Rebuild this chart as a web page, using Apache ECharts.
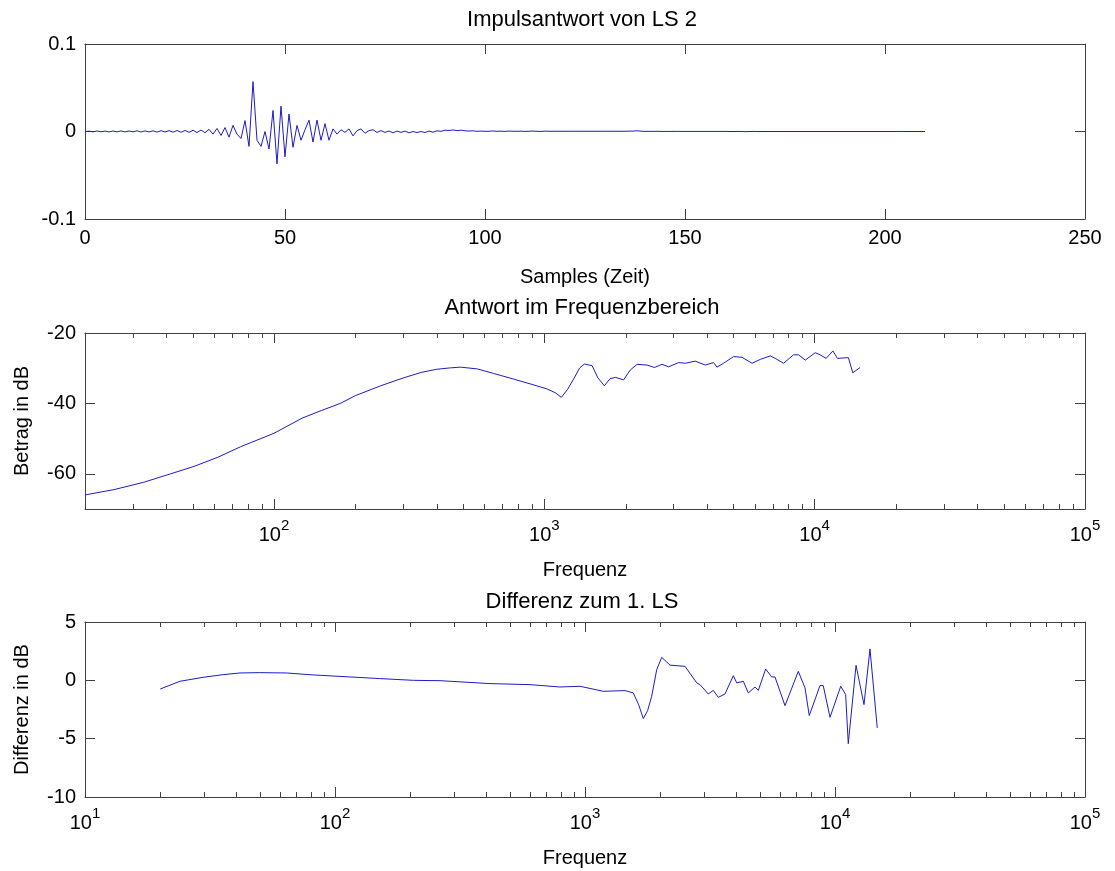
<!DOCTYPE html>
<html><head><meta charset="utf-8">
<script src="https://cdn.jsdelivr.net/npm/echarts@6/dist/echarts.min.js"></script>
<style>html,body{margin:0;padding:0;background:#fff}#c{width:1115px;height:871px}</style>
</head><body><div id="c"></div>
<script>
// ---- Data ----
const impulse = [
 0, 0.0004, -0.0004, 0.0006, -0.0003, 0.0005, -0.0005, 0.0006, -0.0004, 0.0007,
 -0.0005, 0.0006, -0.0004, 0.0008, -0.0006, 0.0007, -0.0005, 0.0008, -0.0007, 0.0009,
 -0.0006, 0.0010, -0.0008, 0.0011, -0.0009, 0.0012, -0.0010, 0.0014, -0.0012, 0.0017,
 -0.0014,
 0.0025, -0.0030, 0.0035, -0.0045, 0.0045, -0.0065, 0.0070, -0.0030, -0.0080, 0.0125,
 -0.0170, 0.0570, -0.0100, -0.0170, 0.0000, -0.0200, 0.0240, -0.0370, 0.0290, -0.0290,
 0.0200, -0.0180, 0.0070, -0.0100, 0.0020, 0.0130, -0.0120, 0.0130, -0.0100, 0.0090,
 -0.0100, 0.0030, -0.0030, 0.0020, -0.0010, 0.0030, -0.0050, 0.0010, 0.0030, -0.0020,
 0.0010, 0.0020, -0.0010, 0.0010, -0.0010, 0.0005, -0.0015, 0.0005, -0.0010, 0.0005,
 -0.0015, 0.0000, -0.0012, 0.0000, -0.0012, 0.0005, -0.0008, 0.0008, 0.0002, 0.0015,
 0.0012, 0.0018, 0.0010, 0.0015, 0.0008, 0.0005, 0.0008, 0.0002, 0.0005, 0.0002,
 0.0003, 0.0006, 0.0002, 0.0004, 0.0001, 0.0005, 0.0003, 0.0002, 0.0004, 0.0001,
 0.0003, 0.0005, 0.0002, 0.0001, 0.0004, 0.0003, 0.0002, 0.0003, 0.0003, 0.0002,
 0.0003, 0.0003, 0.0002, 0.0003, 0.0003, 0.0002, 0.0003, 0.0002, 0.0003, 0.0003,
 0.0002, 0.0003, 0.0003, 0.0002, 0.0003, 0.0004, 0.0005, 0.0008, 0.0004, 0.0001,
 0.0002, 0.0001, 0.0002, 0.0001, 0.0001, 0.0001, 0.0001, 0.0002, 0.0001, 0.0001,
 0.0001, 0.0001, 0.0001, 0.0001, 0.0001, 0.0001, 0.0001, 0.0001, 0.0001, 0.0001,
 0.0000, 0.0000, 0.0000, 0.0001, -0.0002, 0.0000, 0.0001, 0.0000, 0.0000, 0.0000,
 0.0000, 0.0000, 0.0000, 0.0000, 0.0000, 0.0000, 0.0000, 0.0000, 0.0000, 0.0000,
 0.0000, 0.0000, 0.0000, 0.0000, 0.0000, 0.0000, 0.0000, 0.0000, 0.0000, 0.0000,
 0.0000, 0.0000, 0.0000, 0.0000, 0.0000, 0.0000, 0.0000, 0.0000, 0.0000, 0.0000,
 0.0000, 0.0000, 0.0000, 0.0001, 0.0000, 0.0000, 0.0000, 0.0000, 0.0000, 0.0000
];

const respFreq = [20, 25.6, 33, 41.5, 50.6, 62, 75.3, 100, 127, 150, 176, 200, 248, 300, 350, 400, 450, 490, 565, 650, 771, 900, 1024, 1100, 1156, 1220, 1285, 1350, 1407, 1503, 1580, 1668, 1750, 1832, 1965, 2080, 2203, 2399, 2553, 2725, 2884, 3140, 3322, 3616, 3939, 4226, 4352, 4603, 5012, 5385, 5866, 6296, 6852, 7146, 7674, 8356, 8716, 9230, 10050, 10480, 11030, 11680, 12140, 13330, 13840, 14730];
const respDb = [-66.0, -64.5, -62.4, -60.0, -57.9, -55.3, -52.3, -48.5, -44.2, -42.0, -40.0, -37.8, -35.0, -32.8, -31.2, -30.3, -29.9, -29.7, -30.2, -31.5, -33.1, -34.6, -35.9, -37.0, -38.3, -36.0, -33.0, -30.0, -28.8, -29.3, -32.8, -35.0, -33.0, -32.6, -33.3, -30.5, -28.9, -29.1, -29.8, -28.9, -29.6, -28.4, -28.6, -28.0, -29.1, -28.4, -29.7, -28.6, -26.7, -26.9, -28.6, -27.5, -26.5, -27.2, -28.6, -26.2, -26.2, -27.7, -25.6, -26.2, -27.2, -25.1, -27.2, -27.0, -31.3, -29.8];

const diffFreq = [20, 24, 29.7, 35.7, 41.7, 50, 64, 82, 115, 151, 206, 263, 417, 603, 794, 955, 1184, 1445, 1560, 1640, 1711, 1780, 1848, 1936, 2027, 2188, 2512, 2799, 2884, 3113, 3260, 3414, 3631, 3920, 4045, 4299, 4501, 4786, 4935, 5280, 5580, 5754, 6310, 7132, 7586, 7889, 8710, 8974, 9550, 10540, 11030, 11300, 12140, 13060, 13800, 14760];
const diffDb = [-0.74, -0.08, 0.26, 0.49, 0.63, 0.66, 0.63, 0.46, 0.29, 0.15, 0.0, -0.03, -0.28, -0.37, -0.57, -0.51, -0.94, -0.88, -1.08, -2.10, -3.28, -2.60, -1.37, 0.92, 1.97, 1.30, 1.20, -0.22, -0.37, -1.17, -0.86, -1.46, -1.17, 0.40, -0.22, -0.08, -1.08, -0.57, -0.86, 0.97, 0.29, 0.29, -2.17, 0.77, -0.65, -3.02, -0.45, -0.45, -3.17, -0.51, -1.22, -5.43, 1.29, -2.08, 2.69, -4.08];

const titles = ['Impulsantwort von LS 2', 'Antwort im Frequenzbereich', 'Differenz zum 1. LS'];
const xNames = ['Samples (Zeit)', 'Frequenz', 'Frequenz'];
const yNames = ['', 'Betrag in dB', 'Differenz in dB'];
const yTicks2 = [-60, -40, -20];
const minorTicks2 = [30, 40, 50, 60, 70, 80, 90, 200, 300, 400, 500, 600, 700, 800, 900, 2000, 3000, 4000, 5000, 6000, 7000, 8000, 9000, 20000, 30000, 40000, 50000, 60000, 70000, 80000, 90000];
const minorTicks3 = [20, 30, 40, 50, 60, 70, 80, 90, 200, 300, 400, 500, 600, 700, 800, 900, 2000, 3000, 4000, 5000, 6000, 7000, 8000, 9000, 20000, 30000, 40000, 50000, 60000, 70000, 80000, 90000];

// ---- Chart ----
const FONT = 'Liberation Sans, Arial, Helvetica, sans-serif';
const AX = '#404040';
const LINE = '#1c1cc8';
const FS = 20;

const grids = [
  {left: 85, top: 44, width: 1000, height: 175},
  {left: 85, top: 333, width: 1000, height: 176},
  {left: 85, top: 622, width: 1000, height: 175}
];

function logFmt(v) {
  const e = Math.log10(v);
  const r = Math.round(e);
  if (Math.abs(e - r) > 1e-6) return '';
  return '{b|10}{s|' + r + '}';
}
const logRich = {
  b: {fontSize: FS, fontFamily: FONT, color: '#000', lineHeight: 27, verticalAlign: 'bottom'},
  s: {fontSize: 15, fontFamily: FONT, color: '#000', lineHeight: 14, verticalAlign: 'top'}
};

function baseAxis(extra) {
  return Object.assign({
    axisLine: {show: true, onZero: false, lineStyle: {color: AX, width: 1}},
    axisTick: {show: true, inside: true, length: 10, lineStyle: {color: AX, width: 1}},
    splitLine: {show: false},
    axisLabel: {show: true, color: '#000', fontSize: FS, fontFamily: FONT, margin: 9},
    nameTextStyle: {color: '#000', fontSize: FS, fontFamily: FONT}
  }, extra);
}

const xAxes = [], yAxes = [];
const xDefs = [
  {type: 'value', min: 0, max: 250, interval: 50},
  {type: 'log', logBase: 10, min: 20, max: 100000},
  {type: 'log', logBase: 10, min: 10, max: 100000}
];
const yDefs = [
  {type: 'value', min: -0.1, max: 0.1, interval: 0.1},
  {type: 'value', min: -70, max: -20},
  {type: 'value', min: -10, max: 5, interval: 5}
];
for (let i = 0; i < 3; i++) {
  const xb = baseAxis(Object.assign({}, xDefs[i], {gridIndex: i, position: 'bottom', name: xNames[i], nameLocation: 'middle', nameGap: i === 0 ? 48 : 51}));
  if (i > 0) {
    xb.axisLabel = Object.assign({}, xb.axisLabel, {formatter: logFmt, rich: logRich, margin: 9});
  }
  const xt = baseAxis(Object.assign({}, xDefs[i], {gridIndex: i, position: 'top'}));
  xt.axisLabel = {show: false};
  xAxes.push(xb, xt);

  const yl = baseAxis(Object.assign({}, yDefs[i], {gridIndex: i, position: 'left', name: yNames[i], nameLocation: 'middle', nameGap: 53}));
  const yr = baseAxis(Object.assign({}, yDefs[i], {gridIndex: i, position: 'right'}));
  yr.axisLabel = {show: false};
  if (i === 1) {
    yl.axisTick = Object.assign({}, yl.axisTick, {customValues: yTicks2});
    yl.axisLabel = Object.assign({}, yl.axisLabel, {customValues: yTicks2});
    yr.axisTick = Object.assign({}, yr.axisTick, {customValues: yTicks2});
  }
  yAxes.push(yl, yr);
}

function minorTickRender(params, api) {
  const x = Math.round(api.coord([api.value(0), api.value(1)])[0]) + 0.5;
  const cs = params.coordSys;
  const top = cs.y, bot = cs.y + cs.height;
  return {type: 'group', children: [
    {type: 'line', shape: {x1: x, y1: top, x2: x, y2: top + 5}, style: {stroke: AX, lineWidth: 1}},
    {type: 'line', shape: {x1: x, y1: bot, x2: x, y2: bot - 5}, style: {stroke: AX, lineWidth: 1}}
  ]};
}

const option = {
  backgroundColor: '#fff',
  animation: false,
  title: titles.map((t, i) => ({
    text: t, left: 582, top: [9, 297, 591][i], textAlign: 'center', padding: 0,
    textStyle: {fontSize: 22, fontWeight: 'normal', color: '#000', fontFamily: FONT}
  })),
  grid: grids,
  xAxis: xAxes,
  yAxis: yAxes,
  series: [
    {type: 'line', xAxisIndex: 0, yAxisIndex: 0, showSymbol: false, symbol: 'none',
     lineStyle: {color: LINE, width: 1}, data: impulse.map((v, i) => [i, v])},
    {type: 'line', xAxisIndex: 2, yAxisIndex: 2, showSymbol: false, symbol: 'none',
     lineStyle: {color: LINE, width: 1}, data: respFreq.map((f, i) => [f, respDb[i]])},
    {type: 'line', xAxisIndex: 4, yAxisIndex: 4, showSymbol: false, symbol: 'none',
     lineStyle: {color: LINE, width: 1}, data: diffFreq.map((f, i) => [f, diffDb[i]])},
    {type: 'custom', xAxisIndex: 2, yAxisIndex: 2, renderItem: minorTickRender, clip: false,
     data: minorTicks2.map(f => [f, -70])},
    {type: 'custom', xAxisIndex: 4, yAxisIndex: 4, renderItem: minorTickRender, clip: false,
     data: minorTicks3.map(f => [f, -10])}
  ]
};

const chart = echarts.init(document.getElementById('c'), null, {renderer: 'canvas'});
chart.setOption(option);
</script>
</body></html>
